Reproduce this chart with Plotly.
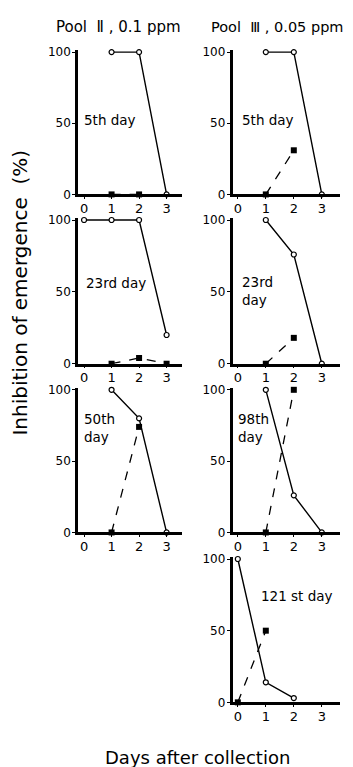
import plotly.graph_objects as go

W, H = 353, 767
OFF = 8  # page body margin in the rendered screenshot
FONT = "DejaVu Sans, Verdana, sans-serif"

# ---- data ----
panel_labels = ["5th day", "5th day", "23rd day", "23rd<br>day", "50th<br>day", "98th<br>day", "121 st day"]
open_x = [[1, 2, 3], [1, 2, 3], [0, 1, 2, 3], [1, 2, 3], [1, 2, 3], [1, 2, 3], [0, 1, 2]]
open_y = [[100, 100, 0], [100, 100, 0], [100, 100, 100, 20], [100, 76, 0], [100, 80, 0], [100, 26, 0], [100, 14, 3]]
filled_x = [[1, 2], [1, 2], [1, 2, 3], [1, 2], [1, 2], [1, 2], [0, 1]]
filled_y = [[0, 0], [0, 31], [0, 4, 0], [0, 18], [0, 74], [0, 100], [0, 50]]
x_ticks = [0, 1, 2, 3]
y_ticks = [0, 50, 100]
col_titles = ["Pool  Ⅱ , 0.1 ppm", "Pool  Ⅲ , 0.05 ppm"]
y_title = "Inhibition of emergence  (%)"
x_title = "Days after collection"


def PX(p):
    return (p - OFF) / W


def PY(p):
    return 1 - (p - OFF) / H


# ---- layout geometry (screen pixels) ----
cols = {"L": (78, 182, [-0.22, 3.56]), "R": (232.5, 340, [-0.19, 3.65])}
rows = [(192.3, 47.7), (364.3, 218.3), (535.7, 390.8), (708.3, 562.7)]
panels = [("L", 0), ("R", 0), ("L", 1), ("R", 1), ("L", 2), ("R", 2), ("R", 3)]
label_pos = [(83, 117), (241, 117), (85, 282), (241, 290), (83, 430), (237, 430), (259.5, 600)]

fig = go.Figure()
layout = {}
annotations = []
for i, (c, r) in enumerate(panels):
    n = i + 1
    sfx = "" if n == 1 else str(n)
    xl, xr, xrange = cols[c]
    y0p, y100p = rows[r]
    ppu = (y0p - y100p) / 100.0
    ytop = y0p - 101.5 * ppu
    layout["xaxis" + sfx] = dict(
        domain=[PX(xl), PX(xr)], range=xrange, anchor="y" + sfx,
        showline=True, linewidth=2.5, linecolor="black", mirror=False,
        tickmode="array", tickvals=x_ticks, ticktext=[str(v) for v in x_ticks],
        ticks="outside", ticklen=2, tickwidth=1, tickcolor="black",
        ticklabelstandoff=-2,
        showgrid=False, zeroline=False,
        tickfont=dict(family=FONT, size=13, color="black"),
        fixedrange=True,
    )
    layout["yaxis" + sfx] = dict(
        domain=[PY(y0p), PY(ytop)], range=[0, 101.5], anchor="x" + sfx,
        showline=True, linewidth=2.5, linecolor="black",
        tickmode="array", tickvals=y_ticks, ticktext=[str(v) for v in y_ticks],
        ticks="outside", ticklen=3, tickwidth=1, tickcolor="black",
        ticklabelstandoff=-1,
        showgrid=False, zeroline=False,
        tickfont=dict(family=FONT, size=12, color="black"),
        fixedrange=True,
    )
    fig.add_trace(go.Scatter(
        x=filled_x[i], y=filled_y[i], mode="lines+markers",
        line=dict(color="black", width=1.3, dash="dash"),
        marker=dict(symbol="square", size=6, color="black"),
        xaxis="x" + sfx, yaxis="y" + sfx, cliponaxis=False, showlegend=False,
    ))
    fig.add_trace(go.Scatter(
        x=open_x[i], y=open_y[i], mode="lines+markers",
        line=dict(color="black", width=1.4),
        marker=dict(symbol="circle", size=5, color="white", line=dict(color="black", width=1.2)),
        xaxis="x" + sfx, yaxis="y" + sfx, cliponaxis=False, showlegend=False,
    ))
    lx, ly = label_pos[i]
    annotations.append(dict(
        text=panel_labels[i], x=PX(lx), y=PY(ly), xref="paper", yref="paper",
        xanchor="left", yanchor="middle", showarrow=False, align="left", borderpad=0,
        font=dict(family=FONT, size=13.5, color="black"),
    ))

annotations.append(dict(text=col_titles[0], x=PX(118.5), y=PY(22), xref="paper", yref="paper",
                        xanchor="center", yanchor="middle", showarrow=False,
                        font=dict(family=FONT, size=15, color="black")))
annotations.append(dict(text=col_titles[1], x=PX(277), y=PY(22), xref="paper", yref="paper",
                        xanchor="center", yanchor="middle", showarrow=False,
                        font=dict(family=FONT, size=14.5, color="black")))
annotations.append(dict(text=y_title, x=PX(20.5), y=PY(292.5),
                        xref="paper", yref="paper", textangle=-90,
                        xanchor="center", yanchor="middle", showarrow=False,
                        font=dict(family=FONT, size=20, color="black")))
annotations.append(dict(text=x_title, x=PX(198), y=PY(764),
                        xref="paper", yref="paper",
                        xanchor="center", yanchor="middle", showarrow=False,
                        font=dict(family=FONT, size=18, color="black")))

fig.update_layout(
    width=W, height=H, margin=dict(l=0, r=0, t=0, b=0),
    paper_bgcolor="white", plot_bgcolor="white",
    annotations=annotations, **layout,
)
fig.write_html("out.html", config={"displayModeBar": False})
